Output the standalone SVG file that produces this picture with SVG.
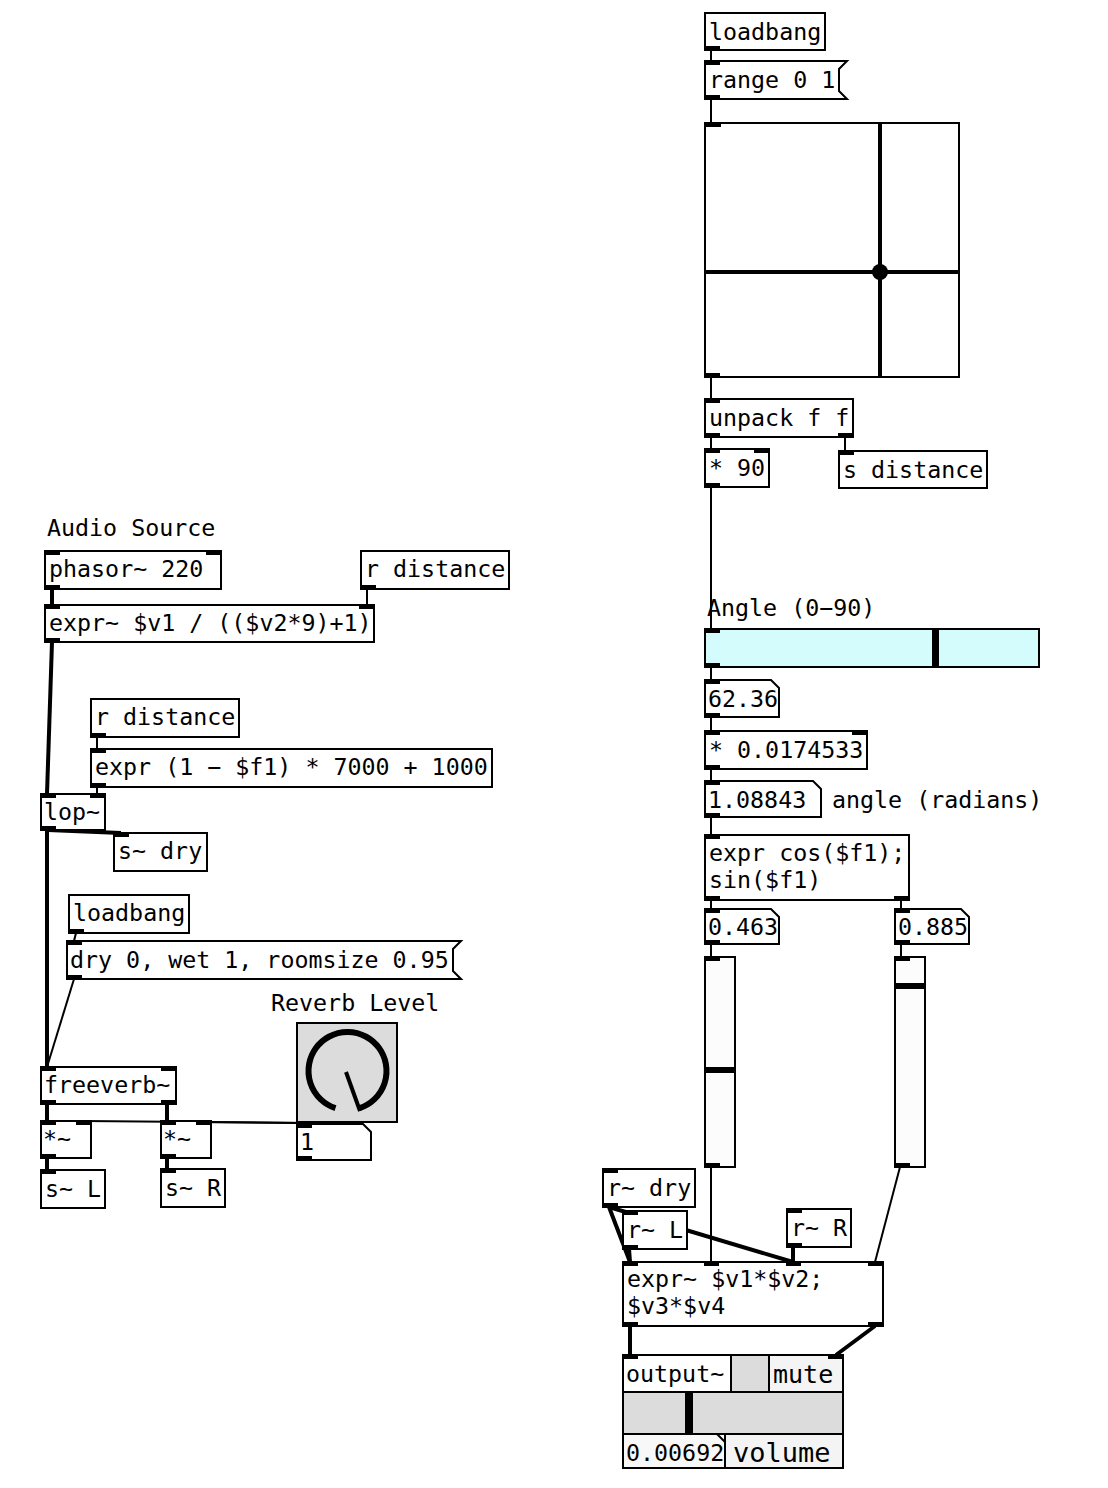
<svg xmlns="http://www.w3.org/2000/svg" width="1108" height="1488" viewBox="0 0 1108 1488">
<style>
.b{fill:#fff;stroke:#000;stroke-width:2}
.t{font-family:"DejaVu Sans Mono","Liberation Mono",monospace;font-size:23.3px;fill:#000}
.io{fill:#000}
.c{stroke:#000;stroke-width:2;fill:none}
.s{stroke:#000;stroke-width:4;fill:none}
</style>
<rect x="0" y="0" width="1108" height="1488" fill="#fff"/>
<g id="connectors">
<line class="c" x1="711" y1="50" x2="711" y2="61"/>
<line class="c" x1="711" y1="99" x2="711" y2="123"/>
<line class="c" x1="711" y1="377" x2="711" y2="399"/>
<line class="c" x1="711" y1="437" x2="711" y2="449"/>
<line class="c" x1="845" y1="437" x2="845" y2="451"/>
<line class="c" x1="711" y1="487" x2="711" y2="629"/>
<line class="c" x1="711" y1="667" x2="711" y2="680"/>
<line class="c" x1="711" y1="717" x2="711" y2="731"/>
<line class="c" x1="711" y1="769" x2="711" y2="781"/>
<line class="c" x1="711" y1="817" x2="711" y2="835"/>
<line class="c" x1="711" y1="900" x2="711" y2="909"/>
<line class="c" x1="901" y1="900" x2="901" y2="909"/>
<line class="c" x1="711" y1="944" x2="711" y2="957"/>
<line class="c" x1="901" y1="944" x2="901" y2="957"/>
<line class="c" x1="711" y1="1167" x2="711" y2="1262"/>
<line class="c" x1="900" y1="1167" x2="875" y2="1262"/>
<line class="s" x1="609" y1="1207" x2="630" y2="1262"/>
<line class="s" x1="609" y1="1207" x2="793" y2="1262"/>
<line class="s" x1="629" y1="1249" x2="630" y2="1262"/>
<line class="s" x1="793" y1="1247" x2="793" y2="1262"/>
<line class="s" x1="630" y1="1326" x2="630" y2="1355"/>
<line class="s" x1="875" y1="1326" x2="836" y2="1355"/>
<line class="s" x1="52" y1="589" x2="52" y2="605"/>
<line class="c" x1="367" y1="589" x2="367" y2="605"/>
<line class="s" x1="52" y1="642" x2="47" y2="794"/>
<line class="c" x1="97" y1="737" x2="97" y2="749"/>
<line class="c" x1="97" y1="787" x2="97" y2="794"/>
<line class="s" x1="48" y1="830" x2="121" y2="833"/>
<line class="s" x1="47" y1="830" x2="47" y2="1067"/>
<line class="c" x1="76" y1="933" x2="74" y2="941"/>
<line class="c" x1="74" y1="979" x2="47" y2="1067"/>
<line class="s" x1="47" y1="1104" x2="47" y2="1121"/>
<line class="s" x1="167" y1="1104" x2="167" y2="1121"/>
<line class="c" x1="304" y1="1123" x2="83" y2="1121"/>
<line class="c" x1="304" y1="1123" x2="203" y2="1122"/>
<line class="s" x1="47" y1="1158" x2="47" y2="1170"/>
<line class="s" x1="167" y1="1158" x2="167" y2="1169"/>
</g>

<g id="loadbang_r">
<rect class="b" x="705" y="13" width="120" height="37"/>
<text class="t" x="709" y="40">loadbang</text>
<rect class="io" x="705" y="46" width="15" height="4"/>
</g>
<g id="msg_range">
<polygon class="b" points="705,61 847,61 839,69 839,91 847,99 705,99"/>
<text class="t" x="709" y="88">range 0 1</text>
<rect class="io" x="705" y="61" width="15" height="4"/>
<rect class="io" x="705" y="95" width="15" height="4"/>
</g>
<g id="grid">
<rect class="b" x="705" y="123" width="254" height="254"/>
<line x1="880" y1="123" x2="880" y2="377" stroke="#000" stroke-width="4"/>
<line x1="705" y1="272" x2="959" y2="272" stroke="#000" stroke-width="4"/>
<circle cx="880" cy="272" r="8" fill="#000"/>
<rect class="io" x="705" y="123" width="16" height="4"/>
<rect class="io" x="705" y="373" width="15" height="4"/>
</g>
<g id="unpack">
<rect class="b" x="705" y="399" width="148" height="38"/>
<text class="t" x="709" y="426">unpack f f</text>
<rect class="io" x="705" y="399" width="15" height="4"/>
<rect class="io" x="705" y="433" width="15" height="4"/>
<rect class="io" x="838" y="433" width="15" height="4"/>
</g>
<g id="mul90">
<rect class="b" x="705" y="449" width="64" height="38"/>
<text class="t" x="709" y="476">* 90</text>
<rect class="io" x="705" y="449" width="15" height="4"/>
<rect class="io" x="754" y="449" width="15" height="4"/>
<rect class="io" x="705" y="483" width="15" height="4"/>
</g>
<g id="s_distance">
<rect class="b" x="839" y="451" width="148" height="37"/>
<text class="t" x="843" y="478">s distance</text>
<rect class="io" x="839" y="451" width="15" height="4"/>
</g>
<g id="angle_label">
<text class="t" x="707" y="616">Angle (0−90)</text>
</g>
<g id="hslider">
<rect x="705" y="629" width="334" height="38" fill="#d4fcfc" stroke="#000" stroke-width="2"/>
<rect x="932" y="629" width="7" height="38" fill="#000"/>
<rect class="io" x="705" y="629" width="15" height="4"/>
<rect class="io" x="705" y="663" width="15" height="4"/>
</g>
<g id="num_angle">
<polygon class="b" points="705,680 771,680 779,688 779,717 705,717"/>
<text class="t" x="708" y="707">62.36</text>
<rect class="io" x="705" y="680" width="15" height="4"/>
<rect class="io" x="705" y="713" width="15" height="4"/>
</g>
<g id="mul_rad">
<rect class="b" x="705" y="731" width="162" height="38"/>
<text class="t" x="709" y="758">* 0.0174533</text>
<rect class="io" x="705" y="731" width="15" height="4"/>
<rect class="io" x="852" y="731" width="15" height="4"/>
<rect class="io" x="705" y="765" width="15" height="4"/>
</g>
<g id="num_rad">
<polygon class="b" points="705,781 813,781 821,789 821,817 705,817"/>
<text class="t" x="708" y="808">1.08843</text>
<text class="t" x="832" y="808">angle (radians)</text>
<rect class="io" x="705" y="781" width="15" height="4"/>
<rect class="io" x="705" y="813" width="15" height="4"/>
</g>
<g id="expr_cos">
<rect class="b" x="705" y="835" width="204" height="65"/>
<text class="t" x="709" y="861">expr cos($f1);</text>
<text class="t" x="709" y="888">sin($f1)</text>
<rect class="io" x="705" y="835" width="15" height="4"/>
<rect class="io" x="705" y="896" width="15" height="4"/>
<rect class="io" x="894" y="896" width="15" height="4"/>
</g>
<g id="num_cos">
<polygon class="b" points="705,909 771,909 779,917 779,944 705,944"/>
<text class="t" x="708" y="935">0.463</text>
<rect class="io" x="705" y="909" width="15" height="4"/>
<rect class="io" x="705" y="940" width="15" height="4"/>
</g>
<g id="num_sin">
<polygon class="b" points="895,909 961,909 969,917 969,944 895,944"/>
<text class="t" x="898" y="935">0.885</text>
<rect class="io" x="895" y="909" width="15" height="4"/>
<rect class="io" x="895" y="940" width="15" height="4"/>
</g>
<g id="vslider_l">
<rect x="705" y="957" width="30" height="210" fill="#fcfcfc" stroke="#000" stroke-width="2"/>
<rect x="705" y="1067" width="30" height="6" fill="#000"/>
<rect class="io" x="705" y="957" width="15" height="4"/>
<rect class="io" x="705" y="1163" width="15" height="4"/>
</g>
<g id="vslider_r">
<rect x="895" y="957" width="30" height="210" fill="#fcfcfc" stroke="#000" stroke-width="2"/>
<rect x="895" y="983" width="30" height="6" fill="#000"/>
<rect class="io" x="895" y="957" width="15" height="4"/>
<rect class="io" x="895" y="1163" width="15" height="4"/>
</g>
<g id="r_dry">
<rect class="b" x="603" y="1169" width="92" height="38"/>
<text class="t" x="607" y="1196">r~ dry</text>
<rect class="io" x="603" y="1169" width="15" height="4"/>
<rect class="io" x="603" y="1203" width="15" height="4"/>
</g>
<g id="r_L">
<rect class="b" x="623" y="1211" width="64" height="38"/>
<text class="t" x="627" y="1238">r~ L</text>
<rect class="io" x="623" y="1211" width="15" height="4"/>
<rect class="io" x="623" y="1245" width="15" height="4"/>
</g>
<g id="r_R">
<rect class="b" x="787" y="1209" width="64" height="38"/>
<text class="t" x="791" y="1236">r~ R</text>
<rect class="io" x="787" y="1209" width="15" height="4"/>
<rect class="io" x="787" y="1243" width="15" height="4"/>
</g>
<g id="expr_mix">
<rect class="b" x="623" y="1262" width="260" height="64"/>
<text class="t" x="627" y="1287">expr~ $v1*$v2;</text>
<text class="t" x="627" y="1314">$v3*$v4</text>
<rect class="io" x="623" y="1262" width="15" height="4"/>
<rect class="io" x="704" y="1262" width="15" height="4"/>
<rect class="io" x="786" y="1262" width="15" height="4"/>
<rect class="io" x="868" y="1262" width="15" height="4"/>
<rect class="io" x="623" y="1322" width="15" height="4"/>
<rect class="io" x="868" y="1322" width="15" height="4"/>
</g>
<g id="output">
<rect x="623" y="1355" width="220" height="113" fill="#fff" stroke="#000" stroke-width="2"/>
<rect x="623" y="1355" width="108" height="37" fill="#fff" stroke="#000" stroke-width="2"/>
<rect x="731" y="1355" width="38" height="37" fill="#dcdcdc" stroke="#000" stroke-width="2"/>
<rect x="769" y="1355" width="74" height="37" fill="#f4f4f4" stroke="#000" stroke-width="2"/>
<rect x="623" y="1392" width="220" height="42" fill="#dcdcdc" stroke="#000" stroke-width="2"/>
<rect x="685" y="1392" width="8" height="42" fill="#000"/>
<rect x="725" y="1434" width="118" height="34" fill="#f4f4f4" stroke="#000" stroke-width="2"/>
<polygon points="623,1434 717,1434 725,1442 725,1468 623,1468" fill="#f8f8f8" stroke="#000" stroke-width="2"/>
<text class="t" x="626" y="1382">output~</text>
<text class="t" x="773" y="1383" style="font-size:25px">mute</text>
<text class="t" x="626" y="1461">0.00692</text>
<text class="t" x="733" y="1462" style="font-size:27px">volume</text>
<rect class="io" x="623" y="1355" width="15" height="4"/>
<rect class="io" x="828" y="1355" width="15" height="4"/>
</g>

<g id="audio_label">
<text class="t" x="47" y="536">Audio Source</text>
</g>
<g id="phasor">
<rect class="b" x="45" y="551" width="176" height="38"/>
<text class="t" x="49" y="577">phasor~ 220</text>
<rect class="io" x="45" y="551" width="15" height="4"/>
<rect class="io" x="206" y="551" width="15" height="4"/>
<rect class="io" x="45" y="585" width="15" height="4"/>
</g>
<g id="r_distance1">
<rect class="b" x="361" y="551" width="148" height="38"/>
<text class="t" x="365" y="577">r distance</text>
<rect class="io" x="361" y="585" width="15" height="4"/>
</g>
<g id="expr_att">
<rect class="b" x="45" y="605" width="329" height="37"/>
<text class="t" x="49" y="631">expr~ $v1 / (($v2*9)+1)</text>
<rect class="io" x="45" y="605" width="15" height="4"/>
<rect class="io" x="359" y="605" width="15" height="4"/>
<rect class="io" x="45" y="638" width="15" height="4"/>
</g>
<g id="r_distance2">
<rect class="b" x="91" y="699" width="148" height="38"/>
<text class="t" x="95" y="725">r distance</text>
<rect class="io" x="91" y="733" width="15" height="4"/>
</g>
<g id="expr_cut">
<rect class="b" x="91" y="749" width="401" height="38"/>
<text class="t" x="95" y="775">expr (1 − $f1) * 7000 + 1000</text>
<rect class="io" x="91" y="749" width="15" height="4"/>
<rect class="io" x="91" y="783" width="15" height="4"/>
</g>
<g id="lop">
<rect class="b" x="41" y="794" width="64" height="36"/>
<text class="t" x="44" y="820">lop~</text>
<rect class="io" x="41" y="794" width="15" height="4"/>
<rect class="io" x="90" y="794" width="15" height="4"/>
<rect class="io" x="41" y="826" width="15" height="4"/>
</g>
<g id="s_dry">
<rect class="b" x="114" y="833" width="93" height="38"/>
<text class="t" x="118" y="859">s~ dry</text>
<rect class="io" x="114" y="833" width="15" height="4"/>
</g>
<g id="loadbang_l">
<rect class="b" x="69" y="895" width="120" height="38"/>
<text class="t" x="73" y="921">loadbang</text>
<rect class="io" x="69" y="929" width="15" height="4"/>
</g>
<g id="msg_dry">
<polygon class="b" points="67,941 461,941 453,949 453,971 461,979 67,979"/>
<text class="t" x="70" y="968">dry 0, wet 1, roomsize 0.95</text>
<rect class="io" x="67" y="941" width="15" height="4"/>
<rect class="io" x="67" y="975" width="15" height="4"/>
</g>
<g id="reverb_label">
<text class="t" x="271" y="1011">Reverb Level</text>
</g>
<g id="knob">
<rect x="297" y="1023" width="100" height="99" fill="#dcdcdc" stroke="#000" stroke-width="2"/>
<path d="M335.5,1108.1 A39,39 0 1 1 359.5,1108.1" fill="none" stroke="#000" stroke-width="6"/>
<line x1="346" y1="1072" x2="360" y2="1111" stroke="#000" stroke-width="4"/>
</g>
<g id="num_level">
<polygon class="b" points="297,1124 363,1124 371,1132 371,1160 297,1160"/>
<text class="t" x="300" y="1150">1</text>
<rect class="io" x="297" y="1124" width="15" height="4"/>
<rect class="io" x="297" y="1156" width="15" height="4"/>
</g>
<g id="freeverb">
<rect class="b" x="41" y="1067" width="135" height="37"/>
<text class="t" x="44" y="1093">freeverb~</text>
<rect class="io" x="41" y="1067" width="15" height="4"/>
<rect class="io" x="161" y="1067" width="15" height="4"/>
<rect class="io" x="41" y="1100" width="15" height="4"/>
<rect class="io" x="161" y="1100" width="15" height="4"/>
</g>
<g id="mul_L">
<rect class="b" x="41" y="1121" width="50" height="37"/>
<text class="t" x="43" y="1147">*~</text>
<rect class="io" x="41" y="1121" width="15" height="4"/>
<rect class="io" x="76" y="1121" width="15" height="4"/>
<rect class="io" x="41" y="1154" width="15" height="4"/>
</g>
<g id="mul_R">
<rect class="b" x="161" y="1121" width="50" height="37"/>
<text class="t" x="163" y="1147">*~</text>
<rect class="io" x="161" y="1121" width="15" height="4"/>
<rect class="io" x="196" y="1121" width="15" height="4"/>
<rect class="io" x="161" y="1154" width="15" height="4"/>
</g>
<g id="s_L">
<rect class="b" x="41" y="1170" width="64" height="38"/>
<text class="t" x="45" y="1197">s~ L</text>
<rect class="io" x="41" y="1170" width="15" height="4"/>
</g>
<g id="s_R">
<rect class="b" x="161" y="1169" width="64" height="38"/>
<text class="t" x="165" y="1196">s~ R</text>
<rect class="io" x="161" y="1169" width="15" height="4"/>
</g>
</svg>
